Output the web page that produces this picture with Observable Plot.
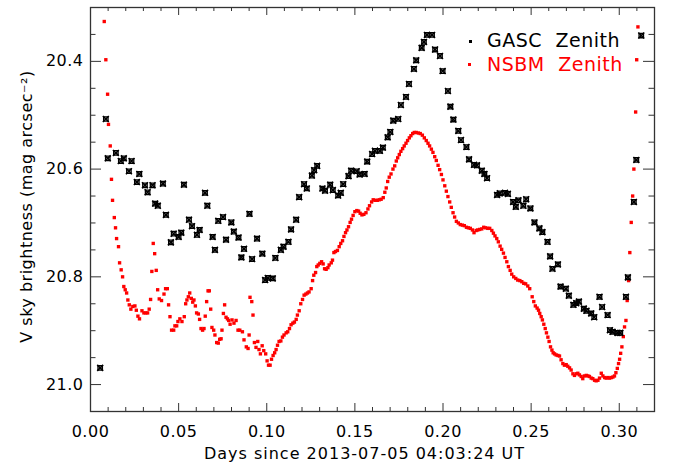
<!DOCTYPE html>
<html><head><meta charset="utf-8">
<script src="https://cdn.jsdelivr.net/npm/d3@7"></script>
<script src="https://cdn.jsdelivr.net/npm/@observablehq/plot@0.6"></script>
<style>
body{margin:0;background:#fff;}
#wrap{position:relative;width:673px;height:464px;font-family:"DejaVu Sans",sans-serif;}
.leg{position:absolute;font-size:19px;letter-spacing:0.5px;word-spacing:7px;white-space:pre;line-height:19px;}
.mk{position:absolute;width:3px;height:3px;}
</style></head><body><div id="wrap"></div>
<script>
const gascDays = [0.0055,0.0087,0.0098,0.0144,0.0172,0.0189,0.0218,0.0233,0.0263,0.0277,0.0309,0.0324,0.0352,0.0367,0.0382,0.0411,0.0428,0.0456,0.0472,0.0500,0.0515,0.0530,0.0559,0.0576,0.0604,0.0619,0.0650,0.0663,0.0693,0.0706,0.0725,0.0752,0.0769,0.0799,0.0813,0.0840,0.0856,0.0871,0.0902,0.0917,0.0945,0.0975,0.0991,0.1006,0.1034,0.1049,0.1080,0.1095,0.1123,0.1138,0.1167,0.1184,0.1212,0.1227,0.1256,0.1269,0.1286,0.1316,0.1331,0.1360,0.1375,0.1405,0.1420,0.1434,0.1464,0.1479,0.1510,0.1527,0.1555,0.1570,0.1598,0.1614,0.1642,0.1659,0.1686,0.1701,0.1718,0.1746,0.1761,0.1790,0.1807,0.1835,0.1848,0.1879,0.1892,0.1909,0.1938,0.1955,0.1983,0.1998,0.2028,0.2042,0.2059,0.2087,0.2102,0.2133,0.2148,0.2176,0.2193,0.2220,0.2235,0.2250,0.2307,0.2322,0.2352,0.2368,0.2398,0.2413,0.2428,0.2456,0.2472,0.2496,0.2519,0.2547,0.2564,0.2593,0.2608,0.2621,0.2652,0.2667,0.2697,0.2714,0.2740,0.2756,0.2771,0.2799,0.2814,0.2841,0.2858,0.2888,0.2903,0.2934,0.2947,0.2962,0.2990,0.3006,0.3038,0.3049,0.3083,0.3097,0.3125];
const gascMag = [20.969,20.507,20.580,20.570,20.585,20.580,20.604,20.585,20.624,20.609,20.630,20.643,20.630,20.664,20.668,20.627,20.685,20.736,20.720,20.726,20.718,20.629,20.694,20.706,20.722,20.713,20.644,20.668,20.726,20.750,20.696,20.689,20.731,20.699,20.716,20.727,20.764,20.748,20.683,20.767,20.729,20.757,20.806,20.802,20.803,20.765,20.750,20.744,20.735,20.712,20.694,20.652,20.628,20.636,20.612,20.602,20.594,20.636,20.640,20.629,20.639,20.649,20.644,20.628,20.613,20.603,20.604,20.610,20.609,20.586,20.572,20.566,20.566,20.560,20.541,20.531,20.510,20.507,20.481,20.466,20.442,20.414,20.398,20.375,20.364,20.351,20.351,20.378,20.390,20.418,20.455,20.484,20.508,20.529,20.546,20.559,20.582,20.592,20.593,20.603,20.609,20.617,20.648,20.645,20.644,20.646,20.661,20.670,20.658,20.668,20.656,20.673,20.699,20.710,20.717,20.735,20.762,20.785,20.777,20.818,20.822,20.835,20.852,20.849,20.846,20.859,20.863,20.868,20.875,20.837,20.856,20.871,20.899,20.902,20.904,20.904,20.837,20.801,20.661,20.583,20.352];

const nsbmDays = [0.0078,0.0087,0.0097,0.0102,0.0112,0.0119,0.0125,0.0135,0.0142,0.0148,0.0159,0.0165,0.0174,0.0182,0.0189,0.0197,0.0205,0.0212,0.0220,0.0229,0.0240,0.0252,0.0260,0.0269,0.0278,0.0292,0.0303,0.0314,0.0324,0.0333,0.0341,0.0348,0.0356,0.0364,0.0373,0.0381,0.0390,0.0403,0.0417,0.0426,0.0436,0.0443,0.0451,0.0460,0.0472,0.0479,0.0489,0.0496,0.0507,0.0519,0.0532,0.0540,0.0547,0.0555,0.0563,0.0572,0.0580,0.0587,0.0595,0.0602,0.0612,0.0619,0.0627,0.0636,0.0644,0.0651,0.0659,0.0667,0.0674,0.0682,0.0689,0.0699,0.0706,0.0716,0.0725,0.0733,0.0741,0.0746,0.0754,0.0761,0.0769,0.0777,0.0784,0.0792,0.0803,0.0814,0.0826,0.0837,
0.0847,0.0862,0.0871,0.0884,0.0894,0.0900,0.0905,0.0915,0.0922,0.0930,0.0939,0.0949,0.0956,0.0964,0.0974,0.0983,0.0994,0.1002,0.1010,0.1019,0.1027,0.1036,0.1045,0.1053,0.1061,0.1070,0.1080,0.1089,0.1098,0.1110,0.1119,0.1129,0.1138,0.1148,0.1157,0.1167,0.1174,0.1184,0.1193,0.1203,0.1212,0.1222,0.1231,0.1240,0.1252,0.1260,0.1267,0.1277,0.1284,0.1292,0.1301,0.1311,0.1320,0.1328,0.1337,0.1347,0.1354,0.1366,0.1373,0.1381,0.1390,0.1401,0.1411,0.1420,0.1430,0.1438,0.1447,0.1455,0.1464,0.1473,0.1481,0.1490,0.1500,0.1511,0.1521,0.1530,0.1540,0.1551,0.1563,0.1574,0.1583,0.1595,0.1604,0.1615,0.1627,0.1638,0.1649,0.1661,
0.1670,0.1678,0.1686,0.1695,0.1705,0.1716,0.1726,0.1735,0.1743,0.1752,0.1761,0.1771,0.1780,0.1790,0.1799,0.1809,0.1818,0.1828,0.1837,0.1848,0.1860,0.1871,0.1883,0.1894,0.1905,0.1915,0.1924,0.1934,0.1943,0.1953,0.1962,0.1972,0.1981,0.1991,0.2000,0.2010,0.2019,0.2028,0.2038,0.2047,0.2057,0.2066,0.2076,0.2087,0.2098,0.2110,0.2121,0.2133,0.2144,0.2155,0.2167,0.2176,0.2188,0.2197,0.2208,0.2220,0.2231,0.2242,0.2254,0.2265,0.2277,0.2286,0.2295,0.2305,0.2314,0.2324,0.2333,0.2343,0.2352,0.2362,0.2371,0.2381,0.2390,0.2401,0.2413,0.2424,0.2436,0.2447,0.2458,0.2469,0.2481,0.2492,
0.2506,0.2515,0.2524,0.2534,0.2542,0.2549,0.2557,0.2564,0.2572,0.2580,0.2587,0.2595,0.2602,0.2610,0.2618,0.2625,0.2633,0.2642,0.2652,0.2661,0.2670,0.2680,0.2689,0.2699,0.2708,0.2718,0.2727,0.2737,0.2746,0.2756,0.2765,0.2774,0.2784,0.2793,0.2803,0.2813,0.2822,0.2831,0.2841,0.2850,0.2860,0.2869,0.2879,0.2888,0.2898,0.2907,0.2917,0.2926,0.2936,0.2945,0.2955,0.2964,0.2973,0.2981,0.2989,0.2996,0.3002,0.3008,0.3015,0.3023,0.3030,0.3038,0.3045,0.3053,0.3060,0.3068,0.3076,0.3083,0.3093,0.3099,0.3106];
const nsbmMag = [20.326,20.397,20.461,20.517,20.557,20.619,20.658,20.690,20.709,20.729,20.744,20.774,20.787,20.800,20.818,20.824,20.830,20.843,20.852,20.860,20.855,20.854,20.862,20.873,20.878,20.863,20.867,20.867,20.867,20.860,20.842,20.790,20.738,20.757,20.788,20.824,20.841,20.844,20.832,20.822,20.822,20.852,20.874,20.899,20.899,20.891,20.891,20.883,20.878,20.883,20.874,20.850,20.843,20.837,20.830,20.840,20.847,20.843,20.854,20.867,20.869,20.879,20.896,20.899,20.896,20.873,20.846,20.826,20.826,20.860,20.894,20.899,20.908,20.922,20.923,20.916,20.915,20.899,20.868,20.852,20.875,20.878,20.881,20.888,20.880,20.886,20.881,20.899,
20.899,20.902,20.917,20.930,20.933,20.908,20.838,20.846,20.871,20.922,20.931,20.920,20.935,20.943,20.928,20.937,20.943,20.956,20.964,20.964,20.953,20.946,20.941,20.935,20.927,20.920,20.919,20.912,20.908,20.904,20.902,20.896,20.889,20.886,20.884,20.879,20.871,20.863,20.850,20.842,20.834,20.832,20.830,20.828,20.822,20.807,20.797,20.792,20.781,20.778,20.775,20.772,20.776,20.785,20.786,20.783,20.778,20.774,20.769,20.755,20.753,20.751,20.744,20.738,20.733,20.725,20.718,20.713,20.707,20.699,20.693,20.686,20.679,20.677,20.678,20.682,20.685,20.684,20.681,20.674,20.668,20.661,20.657,20.658,20.658,20.657,20.656,20.653,
20.643,20.635,20.623,20.615,20.609,20.600,20.594,20.585,20.579,20.573,20.567,20.562,20.557,20.552,20.547,20.542,20.538,20.534,20.532,20.532,20.533,20.534,20.537,20.542,20.547,20.552,20.557,20.563,20.569,20.577,20.584,20.593,20.601,20.610,20.620,20.631,20.641,20.651,20.661,20.671,20.681,20.689,20.697,20.700,20.703,20.704,20.705,20.708,20.709,20.710,20.713,20.718,20.714,20.713,20.712,20.711,20.708,20.709,20.710,20.710,20.714,20.719,20.724,20.729,20.735,20.743,20.749,20.756,20.764,20.772,20.781,20.788,20.795,20.800,20.803,20.806,20.807,20.809,20.812,20.813,20.817,20.822,
20.837,20.846,20.854,20.858,20.862,20.868,20.874,20.880,20.888,20.896,20.904,20.912,20.920,20.930,20.936,20.941,20.943,20.945,20.946,20.947,20.954,20.961,20.964,20.963,20.966,20.969,20.973,20.980,20.983,20.980,20.979,20.982,20.985,20.989,20.984,20.983,20.984,20.985,20.988,20.989,20.992,20.993,20.992,20.988,20.979,20.984,20.987,20.988,20.987,20.988,20.987,20.986,20.984,20.978,20.970,20.961,20.953,20.942,20.930,20.911,20.893,20.881,20.844,20.807,20.755,20.699,20.650,20.600,20.494,20.397,20.336];

const xTicks = [0.00,0.05,0.10,0.15,0.20,0.25,0.30];
const xMinorTicks = [0.01,0.02,0.03,0.04,0.06,0.07,0.08,0.09,0.11,0.12,0.13,0.14,0.16,0.17,0.18,0.19,0.21,0.22,0.23,0.24,0.26,0.27,0.28,0.29,0.31];
const yTicks = [20.4,20.6,20.8,21.0];
const yMinorTicks = [20.35,20.45,20.5,20.55,20.65,20.7,20.75,20.85,20.9,20.95];
const xTitle = "Days since 2013-07-05 04:03:24 UT";
const yTitle = "V sky brightness (mag arcsec\u207B\u00B2)";
const seriesNames = ["GASC Zenith","NSBM Zenith"];
const seriesColors = ["#000000","#ff0000"];

const gasc = gascDays.map((d,i)=>({x:d,y:gascMag[i]}));
const nsbm = nsbmDays.map((d,i)=>({x:d,y:nsbmMag[i]}));

const W = 673, H = 464, mL = 90, mR = 19, mT = 7, mB = 53;
const pw = W - mL - mR, ph = H - mT - mB;
const axisColor = "#333";

const chart = Plot.plot({
  width: W, height: H,
  marginLeft: mL, marginRight: mR, marginTop: mT, marginBottom: mB,
  style: {fontFamily: '"DejaVu Sans", sans-serif', fontSize: "16px", color: "#000", background: "#fff"},
  x: {domain: [0, 0.32], axis: null},
  y: {domain: [20.3, 21.05], reverse: true, axis: null},
  marks: [
    Plot.dot(nsbm, {x: "x", y: "y", symbol: "square", r: 1.9, fill: seriesColors[1], stroke: "none"}),
    Plot.dot(gasc, {x: "x", y: "y", symbol: "square", r: 2.5, fill: "none", stroke: seriesColors[0], strokeWidth: 1.3}),
    Plot.dot(gasc, {x: "x", y: "y", symbol: "times", r: 2.8, stroke: seriesColors[0], strokeWidth: 1.6}),
    Plot.ruleX(xTicks, {insetTop: ph - 8, stroke: axisColor}),
    Plot.ruleX(xTicks, {insetBottom: ph - 8, stroke: axisColor}),
    Plot.ruleX(xMinorTicks, {insetTop: ph - 4, stroke: axisColor}),
    Plot.ruleX(xMinorTicks, {insetBottom: ph - 4, stroke: axisColor}),
    Plot.ruleY(yTicks, {insetRight: pw - 11, stroke: axisColor}),
    Plot.ruleY(yTicks, {insetLeft: pw - 11, stroke: axisColor}),
    Plot.ruleY(yMinorTicks, {insetRight: pw - 5.5, stroke: axisColor}),
    Plot.ruleY(yMinorTicks, {insetLeft: pw - 5.5, stroke: axisColor}),
    Plot.frame({stroke: axisColor, strokeWidth: 1.3}),
    Plot.axisX(xTicks, {tickSize: 0, tickPadding: 14, tickFormat: d3.format(".2f"), label: null, fontSize: 16}),
    Plot.axisY(yTicks, {tickSize: 0, tickPadding: 7, tickFormat: d3.format(".1f"), label: null, fontSize: 16}),
    Plot.text([xTitle], {frameAnchor: "bottom", dx: -8, dy: 42, lineAnchor: "middle", textAnchor: "middle", fontSize: 16, text: d => d}),
    Plot.text([yTitle], {frameAnchor: "left", dx: -64, dy: -3, rotate: -90, lineAnchor: "middle", textAnchor: "middle", fontSize: 16, text: d => d})
  ]
});

d3.select(chart).selectAll("text").attr("letter-spacing", "0.5px");
d3.select(chart).selectAll("text").filter(function(){ return this.textContent === xTitle; }).attr("letter-spacing", "1px");

const wrap = document.getElementById("wrap");
wrap.appendChild(chart);

const legendRows = [
  {name: seriesNames[0], color: seriesColors[0], top: 30.6, mx: 469, my: 39.5},
  {name: seriesNames[1], color: seriesColors[1], top: 54.6, mx: 468, my: 63}
];
for (const r of legendRows) {
  const t = document.createElement("div");
  t.className = "leg";
  t.style.left = "487px";
  t.style.top = r.top + "px";
  t.style.color = r.color;
  t.textContent = r.name;
  wrap.appendChild(t);
  const m = document.createElement("div");
  m.className = "mk";
  m.style.left = r.mx + "px";
  m.style.top = r.my + "px";
  m.style.background = r.color;
  wrap.appendChild(m);
}
</script></body></html>
